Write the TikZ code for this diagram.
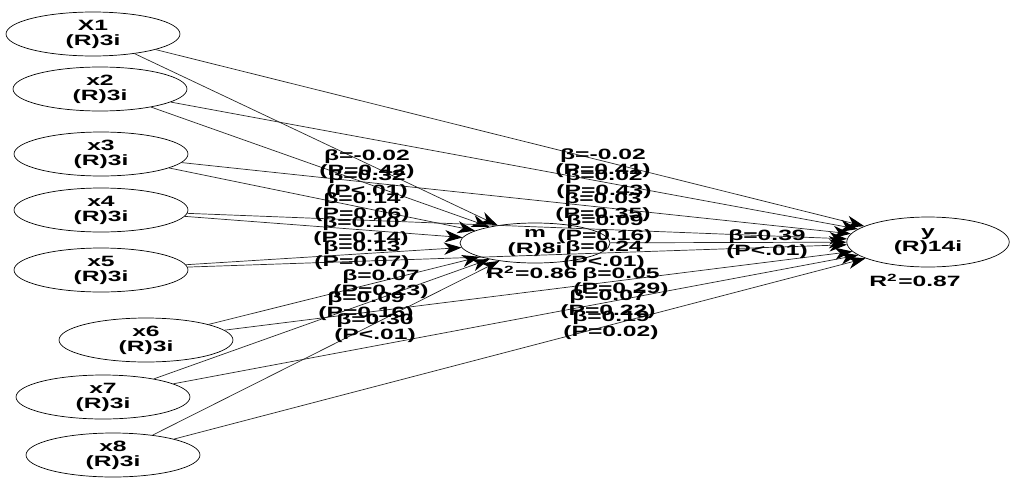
\documentclass[tikz,border=0pt]{standalone}
\usepackage{fontspec}
\setsansfont{Liberation Sans}
\usepackage{graphicx}
\usetikzlibrary{shapes.geometric,arrows.meta}

\newcommand{\stretchtxt}[1]{\scalebox{1.65}[1]{#1}}

\tikzset{
  latent/.style={draw, ellipse, thin, inner sep=0pt, minimum width=3.48cm,
    minimum height=0.88cm, align=center,
    font=\sffamily\bfseries\fontsize{8.5}{8.6}\selectfont},
  coef/.style={inner sep=0pt, align=center,
    font=\sffamily\bfseries\fontsize{8.5}{8.6}\selectfont},
  link/.style={black!85, thin,
    -{Stealth[length=10pt,width=7pt,inset=3pt,black,line width=0.6pt]}},
}

\begin{document}
\begin{tikzpicture}[x=0.02cm, y=-0.02cm]

  \useasboundingbox (0,0) rectangle (1011,477);

  % Indicators on the left
  \foreach \name/\lab/\px/\py in {x1/X1/93/34, x2/x2/100/89, x3/x3/101/154,
      x4/x4/101/210, x5/x5/101/270, x6/x6/146/340, x7/x7/103/397, x8/x8/113/455}{
    \node[latent] (\name) at (\px,\py) {\stretchtxt{\lab}\\\stretchtxt{(R)3i}};
  }

  % Mediator and outcome
  \node[latent, minimum width=3.0cm, minimum height=0.8cm] (m) at (535,243)
    {\stretchtxt{m}\\\stretchtxt{(R)8i}};
  \node[latent, minimum width=3.25cm, minimum height=1.0cm] (y) at (928,242)
    {\stretchtxt{y}\\\stretchtxt{(R)14i}};
  \node[coef] (r2m) at (532,272) {\stretchtxt{R\textsuperscript{2}=0.86}};
  \node[coef] (r2y) at (915,280) {\stretchtxt{R\textsuperscript{2}=0.87}};

  % Paths
  \foreach \i in {1,...,8}{
    \draw[link] (x\i) -- (m);
    \draw[link] (x\i) -- (y);
  }
  \draw[link] (m) -- (y);

  % Coefficients x -> m
  \foreach \b/\p/\px/\py in {-0.02/=0.42/367/164, 0.32/<.01/367/184,
      0.14/=0.06/362/207, 0.10/=0.14/361/231, 0.13/=0.07/362/255,
      0.07/=0.23/381/284, 0.09/=0.16/366/306, 0.30/<.01/375/328}{
    \node[coef] at (\px,\py) {\stretchtxt{β=\b}\\\stretchtxt{(P\p)}};
  }

  % Coefficients x -> y
  \foreach \b/\p/\px/\py in {-0.02/=0.41/603/163, 0.02/=0.43/604/184,
      0.03/=0.35/603/207, 0.09/=0.16/605/229, 0.24/<.01/604/255,
      0.05/=0.29/621/282, 0.07/=0.22/608/304, 0.19/=0.02/611/325}{
    \node[coef] at (\px,\py) {\stretchtxt{β=\b}\\\stretchtxt{(P\p)}};
  }

  % Coefficient m -> y
  \node[coef] (bmy) at (767,244) {\stretchtxt{β=0.39}\\\stretchtxt{(P<.01)}};

\end{tikzpicture}
\end{document}
